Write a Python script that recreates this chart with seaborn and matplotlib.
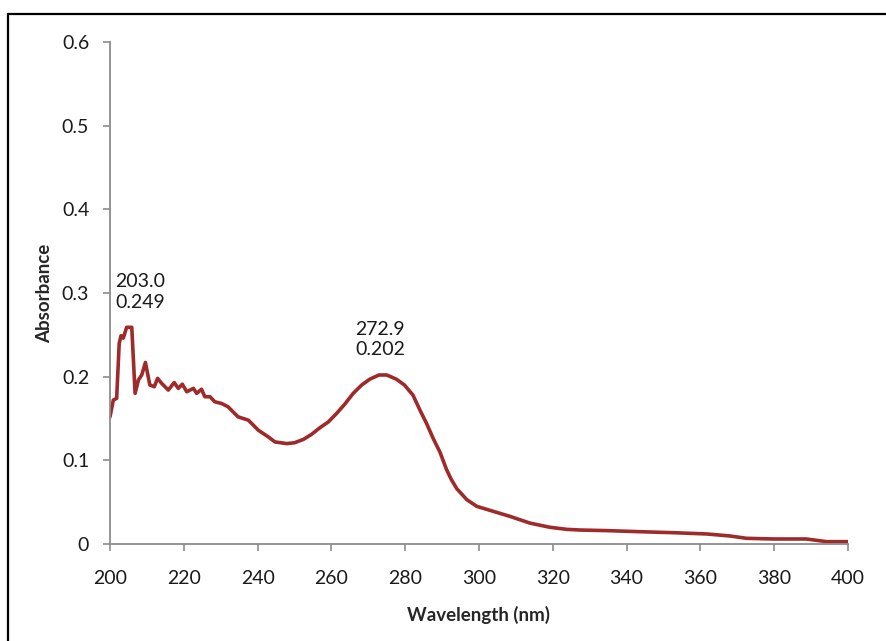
import matplotlib
matplotlib.use("Agg")
import matplotlib.pyplot as plt
from matplotlib.patches import Rectangle
import seaborn as sns
import pandas as pd

# UV-Vis absorption spectrum
wavelength = [
    200.0, 200.9, 201.8, 202.5, 203.0, 203.6, 204.5, 205.9, 206.8, 207.7,
    208.6, 209.6, 210.8, 212.0, 212.9, 214.0, 215.8, 217.4, 218.5, 219.6,
    220.8, 222.6, 223.5, 224.8, 225.7, 227.1, 228.4, 230.2, 232.0, 234.7,
    237.5, 240.2, 242.9, 244.7, 247.9, 250.0, 252.4, 254.6, 256.9, 259.2,
    261.4, 263.6, 265.9, 268.2, 270.4, 272.9, 275.0, 277.6, 279.8, 282.1,
    284.0, 285.8, 287.6, 289.4, 291.2, 292.5, 294.0, 296.7, 299.4, 303.9,
    308.4, 313.8, 319.2, 323.8, 327.4, 334.6, 343.6, 352.7, 361.7, 368.0,
    372.5, 379.7, 388.7, 394.2, 400.0,
]
absorbance = [
    0.152, 0.172, 0.174, 0.240, 0.249, 0.246, 0.259, 0.259, 0.180, 0.196,
    0.202, 0.217, 0.190, 0.188, 0.198, 0.192, 0.184, 0.193, 0.186, 0.191,
    0.182, 0.186, 0.180, 0.185, 0.176, 0.176, 0.170, 0.168, 0.164, 0.152,
    0.148, 0.136, 0.128, 0.122, 0.120, 0.121, 0.125, 0.131, 0.139, 0.146,
    0.156, 0.167, 0.180, 0.190, 0.197, 0.202, 0.202, 0.197, 0.190, 0.178,
    0.160, 0.144, 0.126, 0.110, 0.089, 0.077, 0.066, 0.053, 0.045, 0.039,
    0.033, 0.025, 0.020, 0.0175, 0.0167, 0.016, 0.0147, 0.0135, 0.012, 0.0096,
    0.0068, 0.006, 0.006, 0.0028, 0.0028,
]

# Labelled maxima
peak_wl = [203.0, 272.9]
peak_abs = [0.249, 0.202]

x_ticks = [200, 220, 240, 260, 280, 300, 320, 340, 360, 380, 400]
y_ticks = [0, 0.1, 0.2, 0.3, 0.4, 0.5, 0.6]
y_tick_labels = ["0", "0.1", "0.2", "0.3", "0.4", "0.5", "0.6"]

sns.set_style("white")
plt.rcParams["font.family"] = ["Lato", "DejaVu Sans"]

df = pd.DataFrame({"Wavelength (nm)": wavelength, "Absorbance": absorbance})

fig = plt.figure(figsize=(8.87, 6.41), dpi=100)
ax = fig.add_axes([110 / 887, 1 - 544 / 641, (848 - 110) / 887, (544 - 42) / 641])

sns.lineplot(data=df, x="Wavelength (nm)", y="Absorbance", ax=ax,
             color="#9E2A2A", linewidth=2.6, sort=False)
for line in ax.lines:
    line.set_solid_joinstyle("round")
    line.set_solid_capstyle("round")

ax.set_xlim(200, 400)
ax.set_ylim(0, 0.6)
ax.set_xticks(x_ticks)
ax.set_xticklabels([str(t) for t in x_ticks])
ax.set_yticks(y_ticks)
ax.set_yticklabels(y_tick_labels)

grey = "#8C8C8C"
for side in ["top", "right"]:
    ax.spines[side].set_visible(False)
for side in ["left", "bottom"]:
    ax.spines[side].set_color(grey)
    ax.spines[side].set_linewidth(1.3)
ax.tick_params(axis="both", direction="out", length=5, width=1.2, color=grey,
               labelsize=14, labelcolor="#1a1a1a", left=True, bottom=True)
ax.tick_params(axis="y", pad=10)
ax.tick_params(axis="x", pad=14)

ax.set_xlabel("Wavelength (nm)", fontsize=13.5, fontweight="bold", labelpad=13)
ax.set_ylabel("Absorbance", fontsize=13.5, fontweight="bold", labelpad=6)

offsets = [(14, 18), (1, 12)]
for wl, ab, off in zip(peak_wl, peak_abs, offsets):
    ax.annotate(f"{wl:.1f}\n{ab:.3f}", xy=(wl, ab), xytext=off,
                textcoords="offset points", ha="center", va="bottom",
                fontsize=14, color="#1a1a1a", linespacing=1.25)

# Outer frame of the chart area
fig.patches.append(Rectangle((8.5 / 887, -0.2), 1.2, 1.2 - 13.5 / 641,
                             transform=fig.transFigure, fill=False,
                             edgecolor="black", linewidth=1.6))

fig.savefig("out.png", dpi=100)
